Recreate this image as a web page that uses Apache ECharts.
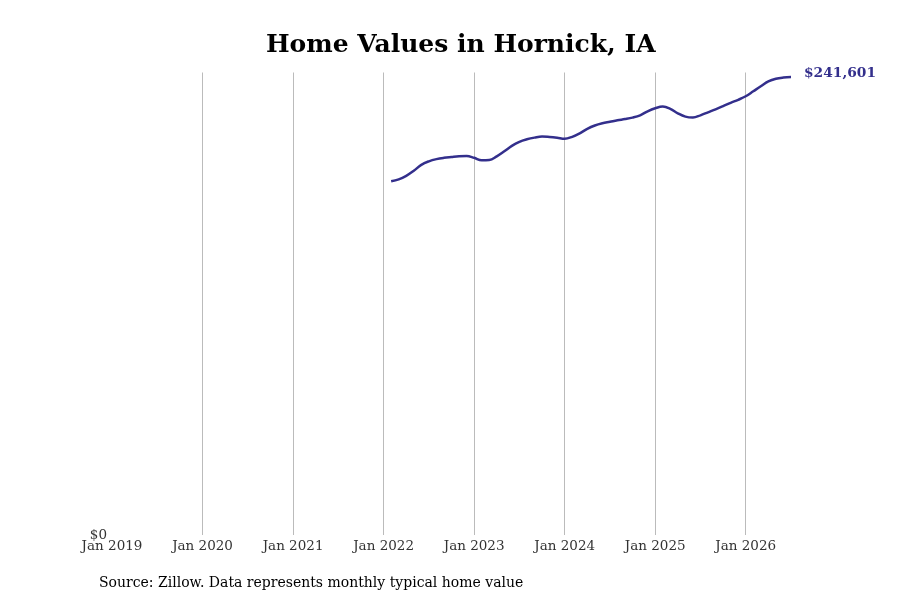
<!DOCTYPE html>
<html>
<head>
<meta charset="utf-8">
<script src="https://cdn.jsdelivr.net/npm/echarts@6/dist/echarts.min.js"></script>
<style>
html,body{margin:0;padding:0;background:#fff;}
#chart{width:900px;height:600px;}
</style>
</head>
<body>
<div id="chart"></div>
<script>
// Monthly categories Jan 2019 .. Jul 2026
const startYear = 2019;
const endYear = 2026;
const endMonth = 7;
const months = [];
for (let y = startYear; y <= endYear; y++) {
  for (let m = 1; m <= 12; m++) {
    if (y === endYear && m > endMonth) break;
    months.push(y + '-' + String(m).padStart(2, '0'));
  }
}
// Typical home value, Feb 2022 .. Jul 2026
const dataStart = '2022-02';
const homeValues = [
  186600, 187650, 189500, 192140, 195300, 197150, 198310, 199000, 199420, 199790, 199950,
  199000, 197680, 197840, 199790, 202430, 205330, 207450, 208770, 209660, 210240, 209980, 209560,
  209030, 210090, 211930, 214310, 216050, 217210, 218000, 218800, 219430, 220220, 221430, 223550,
  225130, 226030, 224870, 222490, 220750, 220270, 221430, 223020, 224600, 226290, 228030, 229620,
  231470, 234110, 236740, 239280, 240700, 241340, 241601
];
const yMax = 244017;

const startIdx = months.indexOf(dataStart);
const seriesData = months.map((m, i) => {
  const k = i - startIdx;
  return (k >= 0 && k < homeValues.length) ? homeValues[k] : null;
});

const monthNames = ['Jan','Feb','Mar','Apr','May','Jun','Jul','Aug','Sep','Oct','Nov','Dec'];
const isJan = (v) => v.slice(5) === '01';
const font = '"DejaVu Serif", serif';
const lineColor = '#332f8c';

const chart = echarts.init(document.getElementById('chart'));
chart.setOption({
  animation: false,
  backgroundColor: '#fff',
  title: {
    text: 'Home Values in Hornick, IA',
    left: 261,
    top: 28,
    textStyle: { fontFamily: font, fontSize: 25, fontWeight: 'bold', color: '#000' }
  },
  graphic: [{
    type: 'text',
    left: 99,
    top: 576,
    style: {
      text: 'Source: Zillow. Data represents monthly typical home value',
      font: '14px ' + font,
      fill: '#000'
    }
  }],
  grid: { left: 112, right: 109, top: 72.5, bottom: 65, containLabel: false },
  xAxis: {
    type: 'category',
    data: months,
    boundaryGap: false,
    axisLine: { show: false },
    axisTick: { show: false },
    axisLabel: {
      interval: (i, v) => isJan(v),
      formatter: (v) => monthNames[parseInt(v.slice(5), 10) - 1] + ' ' + v.slice(0, 4),
      fontFamily: font,
      fontSize: 13.5,
      color: '#333',
      margin: 4
    },
    splitLine: {
      show: true,
      interval: (i, v) => isJan(v) && i > 0,
      lineStyle: { color: '#bbb', width: 1 }
    }
  },
  yAxis: {
    type: 'value',
    min: 0,
    max: yMax,
    interval: yMax,
    splitLine: { show: false },
    axisLine: { show: false },
    axisTick: { show: false },
    axisLabel: {
      showMaxLabel: false,
      formatter: (v) => '$' + v,
      fontFamily: font,
      fontSize: 13.5,
      color: '#333',
      margin: 5,
      verticalAlign: 'middle'
    }
  },
  series: [{
    type: 'line',
    data: seriesData,
    smooth: 0.4,
    showSymbol: false,
    connectNulls: false,
    lineStyle: { color: lineColor, width: 2.5 },
    itemStyle: { color: lineColor },
    endLabel: {
      show: true,
      formatter: (p) => '$' + p.value.toLocaleString('en-US'),
      fontFamily: font,
      fontSize: 13.8,
      fontWeight: 'bold',
      color: lineColor,
      distance: 13,
      offset: [0, -4]
    }
  }]
});
</script>
</body>
</html>
